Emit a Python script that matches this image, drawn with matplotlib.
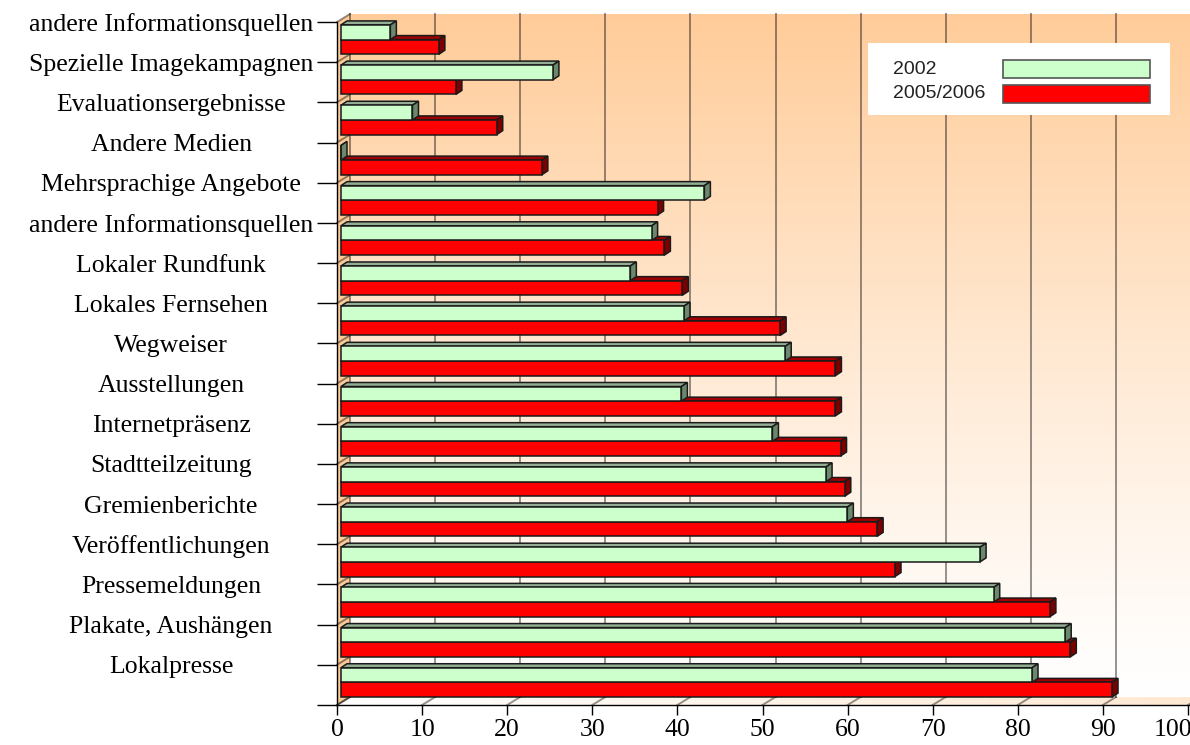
import numpy as np
import matplotlib
matplotlib.use("Agg")
import matplotlib.pyplot as plt
import matplotlib.transforms as mtransforms
from matplotlib.patches import Polygon, Rectangle
from matplotlib.colors import to_rgb

# Categories listed from the bottom of the chart to the top
categories = [
    "Lokalpresse",
    "Plakate, Aushängen",
    "Pressemeldungen",
    "Veröffentlichungen",
    "Gremienberichte",
    "Stadtteilzeitung",
    "Internetpräsenz",
    "Ausstellungen",
    "Wegweiser",
    "Lokales Fernsehen",
    "Lokaler Rundfunk",
    "andere Informationsquellen",
    "Mehrsprachige Angebote",
    "Andere Medien",
    "Evaluationsergebnisse",
    "Spezielle Imagekampagnen",
    "andere Informationsquellen",
]
values_2002 = [81.2, 85.1, 76.7, 75.1, 59.5, 57.0, 50.7, 40.0, 52.2, 40.3,
               34.0, 36.5, 42.7, 0.0, 8.4, 24.9, 5.8]
values_2005 = [90.6, 85.7, 83.3, 65.1, 63.0, 59.2, 58.7, 58.1, 58.1, 51.6,
               40.1, 38.0, 37.2, 23.6, 18.3, 13.5, 11.5]
series_names = ["2002", "2005/2006"]
x_ticks = list(range(0, 101, 10))

W, H = 1190, 745
fig = plt.figure(figsize=(W / 100, H / 100), dpi=100)
fig.patch.set_facecolor("white")
ax = fig.add_axes([337 / W, 40 / H, 851 / W, 683 / H])
n = len(categories)
ax.set_xlim(0, 100)
ax.set_ylim(0, n)
ax.set_facecolor("none")

# pixel -> data unit conversion
px = 100 / 851.0
py = n / 683.0

# depth of the 3D box and of the bars (in pixels)
DX, DY = 13, 8
bx, by = 6, 4
front_off = 4 * px

orange = np.array(to_rgb("#FFCC99"))
white = np.array([1.0, 1.0, 1.0])

# back wall with vertical gradient
ny = 256
t = np.linspace(0, 1, ny)[:, None]  # 0 bottom -> 1 top
f = t ** 1.2
grad = white[None, None, :] * (1 - f[..., None]) + orange[None, None, :] * f[..., None]
grad = np.repeat(grad, 2, axis=1)
ax.imshow(grad, origin="lower", aspect="auto",
          extent=[DX * px, 100 + DX * px + 2, DY * py, n + DY * py],
          zorder=0, clip_on=False, interpolation="bilinear")

# floor with horizontal gradient
floor_img = np.linspace(0, 1, 256)[None, :]
fcol = white[None, None, :] * (1 - 0.45 * floor_img[..., None]) + \
    orange[None, None, :] * (0.45 * floor_img[..., None])
fcol = np.repeat(fcol, 2, axis=0)
floor_im = ax.imshow(fcol, origin="lower", aspect="auto",
                     extent=[0, 100 + DX * px + 2, 0, DY * py],
                     zorder=0.5, clip_on=False, interpolation="bilinear")
floor_poly = Polygon([(0, 0), (100 + 2, 0), (100 + 2 + DX * px, DY * py),
                      (DX * px, DY * py)], closed=True, transform=ax.transData)
floor_im.set_clip_path(floor_poly)

# left wall
left_wall = Polygon([(0, 0), (DX * px, DY * py), (DX * px, n + DY * py), (0, n)],
                    closed=True, facecolor="#FDCB98", edgecolor="none",
                    zorder=0.6, clip_on=False)
ax.add_patch(left_wall)

grid_kw = dict(color="black", alpha=0.42, lw=1.4, zorder=0.8, clip_on=False)
# back wall grid lines and their floor slants
for xt in x_ticks:
    ax.plot([xt + DX * px, xt + DX * px], [DY * py, n + DY * py], **grid_kw)
    ax.plot([xt, xt + DX * px], [0, DY * py], **grid_kw)
# slants on the left wall
for yt in range(n + 1):
    ax.plot([0, DX * px], [yt, yt + DY * py], **grid_kw)

bar_h = 0.365
series = [
    (values_2005, 0.38, "#FF0000", "#A00000", "#7C0000"),
    (values_2002, 0.745, "#CCFFCC", "#93AE93", "#6C886C"),
]
edge_kw = dict(edgecolor="#1a1a1a", linewidth=1.1)

for vals, yoff, c_front, c_top, c_side in series:
    ys = np.arange(n) + yoff
    ax.barh(ys, vals, height=bar_h, left=front_off, color=c_front,
            zorder=3, clip_on=False, **edge_kw)
    for y, v in zip(ys, vals):
        x1 = front_off + v
        top = [(front_off, y + bar_h / 2), (x1, y + bar_h / 2),
               (x1 + bx * px, y + bar_h / 2 + by * py),
               (front_off + bx * px, y + bar_h / 2 + by * py)]
        side = [(x1, y - bar_h / 2), (x1 + bx * px, y - bar_h / 2 + by * py),
                (x1 + bx * px, y + bar_h / 2 + by * py), (x1, y + bar_h / 2)]
        ax.add_patch(Polygon(top, closed=True, facecolor=c_top, zorder=2.9,
                             clip_on=False, **edge_kw))
        ax.add_patch(Polygon(side, closed=True, facecolor=c_side, zorder=2.9,
                             clip_on=False, **edge_kw))

# axes lines and ticks
for s in ["top", "right"]:
    ax.spines[s].set_visible(False)
for s in ["left", "bottom"]:
    ax.spines[s].set_color("black")
    ax.spines[s].set_linewidth(1.0)
    ax.spines[s].set_zorder(5)
ax.spines["bottom"].set_bounds(0, 102)

ax.set_xticks(x_ticks)
ax.set_xticklabels([str(v) for v in x_ticks], fontfamily="Liberation Serif",
                   fontsize=18.5)
ax.tick_params(axis="x", direction="out", length=7, width=1.0, pad=3)
# keep the last label inside the figure
last = ax.get_xticklabels()[-1]
last.set_transform(last.get_transform() +
                   mtransforms.ScaledTranslation(-0.15, 0, fig.dpi_scale_trans))

ax.set_yticks(range(n + 1))
ax.set_yticklabels([""] + categories, fontfamily="Liberation Serif",
                   fontsize=18.5)
ax.tick_params(axis="y", direction="out", length=14.4, width=1.0, pad=105)
for lab in ax.get_yticklabels():
    lab.set_horizontalalignment("center")


def fig_box(x0, y0, x1, y1, **kw):
    """Rectangle given in pixel coordinates from the top-left corner."""
    r = Rectangle((x0 / W, 1 - y1 / H), (x1 - x0) / W, (y1 - y0) / H,
                  transform=fig.transFigure, **kw)
    fig.add_artist(r)


# legend box
fig_box(868, 43, 1170, 115, facecolor="white", edgecolor="none", zorder=10)
leg_colors = ["#CCFFCC", "#FF0000"]
for k, (name, col) in enumerate(zip(series_names, leg_colors)):
    yc = 69 + k * 25
    fig_box(1003, yc - 9, 1150, yc + 9, facecolor=col, edgecolor="#555555",
            linewidth=1.2, zorder=11)
    fig.text(893 / W, 1 - yc / H, name, fontfamily="Liberation Sans",
             fontsize=14, color="#222222", va="center", ha="left", zorder=12)

fig.savefig("out.png", dpi=100)
